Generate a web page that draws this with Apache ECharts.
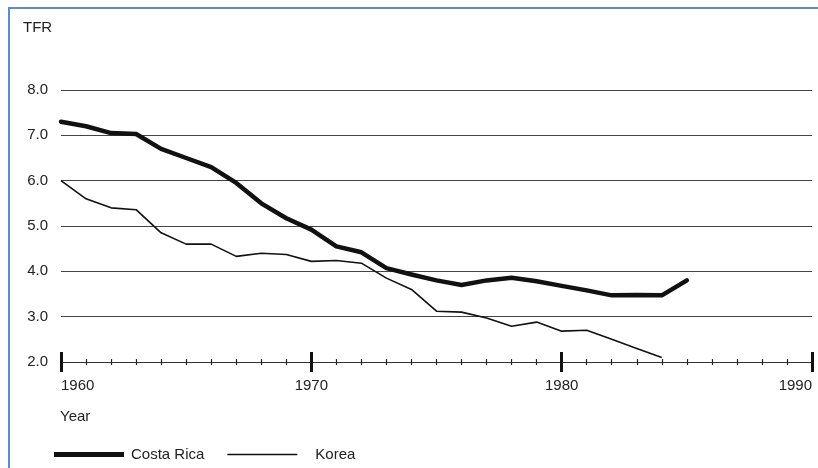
<!DOCTYPE html>
<html>
<head>
<meta charset="utf-8">
<script src="https://cdn.jsdelivr.net/npm/echarts@6/dist/echarts.min.js"></script>
<style>
html,body{margin:0;padding:0;background:#fff;}
#chart{position:absolute;left:0;top:0;width:818px;height:468px;}
</style>
</head>
<body>
<div id="chart"></div>
<script>
const years = [1960,1961,1962,1963,1964,1965,1966,1967,1968,1969,1970,1971,1972,1973,1974,1975,1976,1977,1978,1979,1980,1981,1982,1983,1984,1985];
const costaRica = [7.30,7.20,7.05,7.03,6.70,6.50,6.30,5.95,5.50,5.17,4.92,4.55,4.42,4.07,3.93,3.80,3.70,3.80,3.86,3.78,3.68,3.58,3.47,3.48,3.47,3.80];
const korea = [6.00,5.60,5.40,5.36,4.85,4.60,4.60,4.33,4.40,4.37,4.22,4.24,4.18,3.85,3.60,3.12,3.10,2.97,2.79,2.88,2.68,2.70,2.50,2.30,2.10];
const seriesNames = ['Costa Rica','Korea'];
const yTicks = [2,3,4,5,6,7,8];
const xTicks = [1960,1970,1980,1990];

const font = '"Liberation Sans", Arial, Helvetica, sans-serif';
const chart = echarts.init(document.getElementById('chart'));
const pair = (xs, ys) => ys.map((v,i)=>[xs[i], v]);

const baseX = {
  type:'value', min:xTicks[0], max:xTicks[xTicks.length-1], interval:10,
  splitLine:{show:false},
  axisLine:{show:true, onZero:false, lineStyle:{color:'#333', width:1}},
  minorSplitLine:{show:false}
};

chart.setOption({
  animation:false,
  backgroundColor:'#fff',
  textStyle:{fontFamily:font},
  title:[
    {text:'TFR', left:18, top:15, textStyle:{fontFamily:font, fontSize:15, fontWeight:'normal', color:'#222'}},
    {text:'Year', left:55, top:404, textStyle:{fontFamily:font, fontSize:15, fontWeight:'normal', color:'#222'}}
  ],
  graphic:[
    {type:'line', shape:{x1:8, y1:8, x2:818, y2:8}, style:{stroke:'#5b8bd0', lineWidth:2}},
    {type:'line', shape:{x1:9, y1:8, x2:9, y2:468}, style:{stroke:'#5b8bd0', lineWidth:2}}
  ],
  legend:{
    left:49, top:442, itemWidth:70, itemHeight:12, itemGap:23,
    data:[
      {name:seriesNames[0], itemStyle:{color:'#111'}, icon:'path://M0,4.5 L70,4.5 L70,9.5 L0,9.5 Z',
        textStyle:{fontFamily:font, fontSize:15, color:'#222', padding:[0,0,0,2]}},
      {name:seriesNames[1], itemStyle:{color:'#111'}, icon:'path://M0,6.2 L70,6.2 L70,7.8 L0,7.8 Z',
        textStyle:{fontFamily:font, fontSize:15, color:'#222', padding:[0,0,0,13]}}
    ],
    textStyle:{fontFamily:font, fontSize:15, color:'#222'}
  },
  grid:{left:61, right:6, top:90, bottom:106, containLabel:false},
  xAxis:[
    Object.assign({}, baseX, {
      position:'bottom',
      axisTick:{show:true, inside:false, length:10, lineStyle:{color:'#111', width:3}},
      minorTick:{show:true, splitNumber:10, length:3, lineStyle:{color:'#222', width:1.2}},
      axisLabel:{show:true, margin:16, fontSize:15, color:'#222', fontFamily:font,
        alignMinLabel:'left', alignMaxLabel:'right', formatter:(v)=>String(v)}
    }),
    Object.assign({}, baseX, {
      position:'bottom',
      axisTick:{show:true, inside:true, length:10, lineStyle:{color:'#111', width:3}},
      minorTick:{show:true, splitNumber:10, length:3, lineStyle:{color:'#222', width:1.2}},
      axisLabel:{show:false}
    })
  ],
  yAxis:{
    type:'value', min:yTicks[0], max:yTicks[yTicks.length-1], interval:1,
    axisLine:{show:false}, axisTick:{show:false},
    axisLabel:{margin:13, fontSize:15, color:'#222', fontFamily:font, formatter:(v)=>v.toFixed(1)},
    splitLine:{show:true, lineStyle:{color:'#444', width:1.2}}
  },
  series:[
    {name:seriesNames[0], type:'line', xAxisIndex:0, data:pair(years, costaRica), symbol:'none',
      lineStyle:{color:'#111', width:4.5, join:'round', cap:'round'}, itemStyle:{color:'#111'}, z:3},
    {name:seriesNames[1], type:'line', xAxisIndex:0, data:pair(years, korea), symbol:'none',
      lineStyle:{color:'#111', width:1.6}, itemStyle:{color:'#111'}, z:2}
  ]
});
</script>
</body>
</html>
